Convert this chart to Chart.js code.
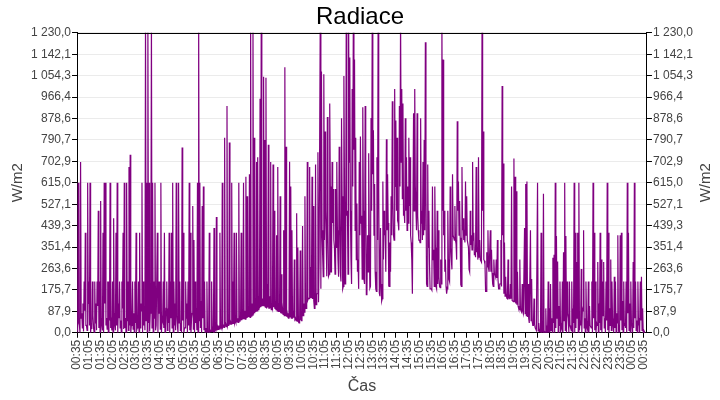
<!DOCTYPE html>
<html>
<head>
<meta charset="utf-8">
<script src="https://cdn.jsdelivr.net/npm/chart.js@4.4.0/dist/chart.umd.min.js"></script>
<style>
  html, body { margin: 0; padding: 0; background: #fff; }
</style>
</head>
<body>
<canvas id="chart" width="720" height="400"></canvas>
<script>
// minutes between slots, counted from 00:35
const STEP_MIN = 3;

// peak reading in each 3 minute slot, W/m2 (above 1230 is cut off at the top)
const night = [
  20, 615, 30, 700, 80, 120, 210, 410, 30, 615,        // 00:35
  210, 615, 40, 210, 20, 210, 120, 210, 500, 210,      // 01:05
  540, 30, 410, 615, 615, 60, 210, 210, 615, 40,       // 01:35
  210, 470, 30, 410, 615, 120, 210, 50, 210, 410,      // 02:05
  615, 60, 615, 210, 680, 730, 30, 210, 80, 210,       // 02:35
  410, 20, 210, 410, 120, 615, 210, 80, 1300, 615,     // 03:05
  1300, 615, 80, 1300, 615, 210, 615, 30, 410, 210,    // 03:35
  210, 615, 60, 210, 410, 20, 210, 100, 410, 210,      // 04:05
  410, 615, 210, 120, 615, 30, 615, 210, 40, 760,      // 04:35
  410, 20, 210, 120, 210, 615, 410, 60, 520, 380,      // 05:05
  210, 100, 615, 1300, 615, 130, 520, 600, 210, 20,    // 05:35
  210, 5, 410, 10, 210, 15, 430, 20, 475, 25           // 06:05
];
const morning = [
  30, 410, 25, 615, 30, 800, 35, 930, 40, 780,         // 06:35
  45, 615, 210, 410, 50, 410, 60, 615, 70, 410,        // 07:05
  80, 615, 90, 640, 560, 100, 650, 1300, 120, 1300,    // 07:35
  800, 130, 700, 720, 150, 960, 1300, 140, 1050, 790,  // 08:05
  1046, 200, 771, 150, 700, 110, 690, 500, 130, 400,   // 08:35
  680, 120, 560, 240, 100, 420, 1089, 763, 80, 60,     // 09:05
  701, 600, 420, 90, 300, 60, 490, 350, 40, 337,       // 09:35
  50, 438, 120, 560, 100, 700, 142, 680, 270, 640,     // 10:05
  520, 100, 690, 160, 740, 300, 1300, 1071, 320, 1060, // 10:35
  825, 380, 885, 232, 940, 250, 700, 590, 350, 590,    // 11:05
  700, 300, 763, 250, 880, 180, 1053, 200, 1300, 500,  // 11:35
  1300, 1129, 300, 1000, 1300, 1120, 800, 530, 300, 700 // 12:05
];
const afternoon = [
  805, 480, 925, 219, 930, 156, 400, 736, 183, 881,    // 12:35
  1300, 830, 610, 180, 720, 1300, 163, 430, 130, 620,  // 13:05
  500, 420, 793, 650, 191, 370, 560, 949, 400, 1000,   // 13:35
  870, 800, 450, 930, 1300, 1000, 940, 500, 880, 720,  // 14:05
  600, 800, 720, 370, 160, 900, 1000, 600, 900, 420,   // 14:35
  380, 880, 500, 700, 790, 1191, 200, 690, 500, 180,   // 15:05
  180, 600, 340, 600, 190, 500, 420, 190, 300, 1300,   // 15:35
  1120, 500, 300, 160, 500, 220, 600, 300, 650, 400,   // 16:05
  520, 364, 867, 620, 540, 197, 680, 470, 400, 620,    // 16:35
  560, 380, 260, 500, 400, 700, 410, 330, 680, 350,    // 17:05
  720, 380, 300, 1300, 825, 295, 170, 330, 420, 250,   // 17:35
  420, 340, 200, 300, 240, 300, 380, 180, 200, 380     // 18:05
];
const evening = [
  1012, 694, 370, 230, 142, 300, 150, 200, 600, 130,   // 18:35
  715, 640, 580, 250, 100, 300, 90, 200, 80, 430,      // 19:05
  610, 620, 200, 40, 420, 220, 30, 140, 20, 10,        // 19:35
  615, 40, 10, 410, 10, 570, 5, 100, 30, 210,          // 20:05
  100, 200, 60, 308, 320, 615, 397, 292, 110, 210,     // 20:35
  30, 210, 330, 615, 397, 210, 60, 210, 20, 210,       // 21:05
  100, 615, 410, 290, 410, 615, 50, 261, 100, 420,     // 21:35
  60, 210, 20, 210, 110, 30, 210, 615, 410, 210,       // 22:05
  40, 290, 120, 410, 300, 210, 290, 60, 210, 615,      // 22:35
  410, 100, 300, 210, 30, 230, 210, 80, 400, 20,       // 23:05
  400, 410, 130, 210, 40, 210, 615, 410, 120, 210,     // 23:35
  30, 290, 615, 210, 50, 210, 60, 210, 230, 100,       // 00:05
  10, 0                                                // 00:35
];

// lowest reading in the same slots
const nightLow = [
  10, 40, 0, 60, 20, 5, 90, 30, 10, 120,
  30, 0, 15, 70, 0, 40, 10, 110, 20, 0,
  60, 10, 0, 120, 30, 15, 0, 50, 20, 10,
  0, 80, 10, 30, 0, 60, 20, 0, 100, 15,
  20, 0, 50, 10, 30, 0, 80, 15, 0, 40,
  10, 60, 0, 20, 90, 0, 30, 10, 50, 0,
  40, 5, 110, 20, 0, 60, 10, 30, 0, 80,
  15, 0, 50, 20, 0, 100, 10, 40, 0, 60,
  20, 0, 30, 10, 70, 0, 40, 10, 0, 50,
  0, 20, 60, 0, 30, 10, 0, 80, 15, 0,
  40, 10, 0, 50, 20, 0, 60, 10, 0, 5,
  0, 3, 2, 5, 6, 5, 9, 11, 10, 14
];
const morningLow = [
  16, 20, 18, 24, 22, 27, 25, 30, 28, 33,
  35, 38, 36, 40, 42, 45, 43, 48, 50, 52,
  55, 58, 56, 60, 62, 65, 63, 68, 72, 75,
  80, 85, 90, 95, 100, 105, 108, 112, 110, 105,
  100, 104, 98, 102, 95, 100, 105, 98, 92, 90,
  88, 85, 80, 78, 75, 70, 68, 66, 64, 62,
  65, 60, 58, 62, 55, 50, 48, 45, 50, 55,
  60, 70, 85, 100, 120, 135, 140, 145, 142, 138,
  130, 120, 115, 160, 125, 300, 180, 420, 230, 380,
  500, 232, 420, 240, 600, 250, 450, 380, 240, 350,
  420, 230, 500, 210, 560, 190, 600, 300, 480, 240,
  700, 500, 200, 600, 750, 420, 300, 250, 180, 400
];
const afternoonLow = [
  450, 220, 500, 200, 600, 160, 250, 400, 190, 500,
  650, 400, 250, 170, 380, 600, 150, 200, 140, 300,
  400, 250, 420, 450, 190, 250, 400, 550, 380, 600,
  500, 460, 420, 600, 700, 550, 480, 450, 500, 420,
  450, 520, 400, 300, 160, 500, 600, 420, 480, 380,
  370, 450, 380, 400, 420, 600, 190, 350, 280, 180,
  175, 300, 190, 350, 180, 200, 230, 185, 200, 500,
  400, 250, 190, 180, 300, 210, 350, 260, 400, 380,
  380, 300, 500, 400, 390, 190, 420, 380, 370, 400,
  380, 350, 250, 360, 340, 380, 320, 310, 330, 300,
  310, 300, 290, 500, 300, 280, 170, 270, 265, 250,
  250, 245, 190, 240, 230, 225, 220, 180, 200, 190
];
const eveningLow = [
  400, 160, 150, 155, 140, 145, 138, 140, 132, 128,
  125, 120, 115, 110, 95, 100, 85, 90, 80, 78,
  70, 65, 60, 40, 50, 45, 30, 35, 20, 10,
  8, 6, 5, 4, 3, 2, 1, 0, 0, 0,
  0, 10, 0, 40, 0, 20, 60, 0, 30, 0,
  20, 0, 50, 10, 0, 80, 0, 30, 10, 0,
  40, 0, 20, 60, 0, 10, 30, 0, 90, 20,
  0, 50, 10, 0, 30, 20, 0, 60, 10, 0,
  30, 0, 40, 10, 0, 70, 20, 0, 50, 10,
  0, 30, 10, 60, 0, 20, 0, 40, 10, 0,
  50, 10, 0, 30, 20, 0, 80, 10, 0, 40,
  0, 20, 60, 10, 0, 30, 0, 50, 10, 0
];

const xTickLabels = [
  '00:35', '01:05', '01:35', '02:05', '02:35', '03:05', '03:35', '04:05', '04:35',
  '05:05', '05:35', '06:05', '06:35', '07:05', '07:35', '08:05', '08:35', '09:05',
  '09:35', '10:05', '10:35', '11:05', '11:35', '12:05', '12:35', '13:05', '13:35',
  '14:05', '14:35', '15:05', '15:35', '16:05', '16:35', '17:05', '17:35', '18:05',
  '18:35', '19:05', '19:35', '20:05', '20:35', '21:05', '21:35', '22:05', '22:35',
  '23:05', '23:35', '00:05', '00:35'
];

const FONT = 'Arial, "Liberation Sans", sans-serif';
const TXT = '#444';

// peak at the start of a slot, low half way through it
const peaks = night.concat(morning, afternoon, evening);
const lows = nightLow.concat(morningLow, afternoonLow, eveningLow);
const points = [];
peaks.forEach((v, i) => {
  points.push({ x: i * STEP_MIN, y: v });
  if (i < lows.length) points.push({ x: i * STEP_MIN + STEP_MIN / 2, y: lows[i] });
});

// 1 230,0 style
function fmt(v) {
  const p = v.toFixed(1).split('.');
  return p[0].replace(/\B(?=(\d{3})+(?!\d))/g, ' ') + ',' + p[1];
}

// top frame line + right axis title reading upwards like the left one
const extras = {
  id: 'extras',
  afterDraw(chart) {
    const a = chart.chartArea;
    const ctx = chart.ctx;
    ctx.save();
    ctx.strokeStyle = '#000';
    ctx.lineWidth = 1;
    ctx.beginPath();
    ctx.moveTo(a.left, Math.round(a.top) + 0.5);
    ctx.lineTo(a.right, Math.round(a.top) + 0.5);
    ctx.stroke();
    ctx.translate(chart.width - 14, (a.top + a.bottom) / 2);
    ctx.rotate(-Math.PI / 2);
    ctx.font = '15px ' + FONT;
    ctx.fillStyle = TXT;
    ctx.textAlign = 'center';
    ctx.textBaseline = 'middle';
    ctx.fillText('W/m2', 0, 0);
    ctx.restore();
  }
};

const yTicks = { count: 15, callback: fmt, color: TXT, font: { family: FONT, size: 12 }, padding: 1 };

new Chart(document.getElementById('chart'), {
  type: 'line',
  data: {
    datasets: [{
      data: points,
      borderColor: '#800080',
      borderWidth: 1.2,
      pointRadius: 0,
      tension: 0,
      fill: false
    }]
  },
  options: {
    responsive: false,
    animation: false,
    devicePixelRatio: 1,
    layout: { padding: 0 },
    plugins: {
      legend: { display: false },
      tooltip: { enabled: false },
      title: {
        display: true,
        text: 'Radiace',
        color: '#000',
        font: { family: FONT, size: 24, weight: 'normal' },
        padding: { top: 3, bottom: 1 }
      }
    },
    scales: {
      x: {
        type: 'linear',
        min: 0,
        max: 1448,
        ticks: {
          stepSize: 30,
          includeBounds: false,
          autoSkip: false,
          minRotation: 90,
          maxRotation: 90,
          padding: 2,
          color: TXT,
          font: { family: FONT, size: 12 },
          callback: v => xTickLabels[Math.round(v / 30)] || ''
        },
        grid: { drawOnChartArea: false, tickColor: '#000', tickLength: 5 },
        border: { color: '#000' },
        title: { display: true, text: 'Čas', color: TXT, font: { family: FONT, size: 16 }, padding: { top: 5, bottom: 4 } }
      },
      y: {
        min: 0,
        max: 1230,
        ticks: yTicks,
        grid: { color: '#ebebeb', tickColor: '#000', tickLength: 5 },
        border: { color: '#000' },
        title: { display: true, text: 'W/m2', color: TXT, font: { family: FONT, size: 15 }, padding: { top: 9, bottom: 3 } }
      },
      yRight: {
        position: 'right',
        min: 0,
        max: 1230,
        ticks: yTicks,
        grid: { drawOnChartArea: false, tickColor: '#000', tickLength: 5 },
        border: { color: '#000' },
        title: { display: true, text: 'W/m2', color: 'rgba(0,0,0,0)', font: { family: FONT, size: 15 }, padding: { top: 5, bottom: 3 } }
      }
    }
  },
  plugins: [extras]
});
</script>
</body>
</html>
